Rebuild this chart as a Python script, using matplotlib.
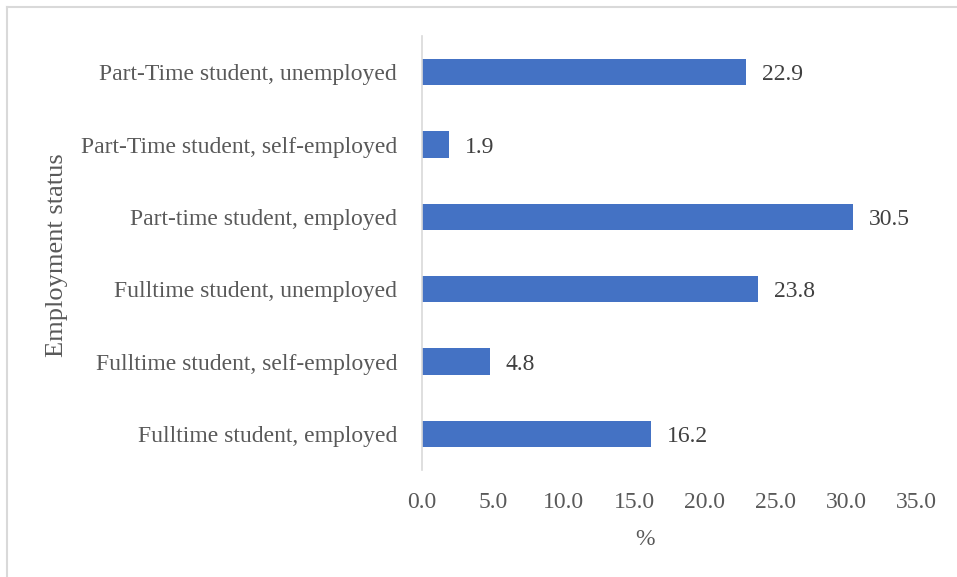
import matplotlib.pyplot as plt
from matplotlib.lines import Line2D

categories = ['Fulltime student, employed', 'Fulltime student, self-employed',
              'Fulltime student, unemployed', 'Part-time student, employed',
              'Part-Time student, self-employed', 'Part-Time student, unemployed']
percent = [16.2, 4.8, 23.8, 30.5, 1.9, 22.9]
xticks = [0, 5, 10, 15, 20, 25, 30, 35]

plt.rcParams['font.family'] = ['Liberation Serif', 'DejaVu Serif']

fig = plt.figure(figsize=(9.57, 5.77), dpi=100)
ax = fig.add_axes([0.441, 0.1854, 0.517, 0.7522])

pos = range(len(categories))
ax.barh(pos, percent, height=0.36, color='#4472C4')
for y, v in zip(pos, percent):
    ax.text(v + 1.13, y, f'{v:.1f}', va='center_baseline', ha='left', fontsize=17, color='#404040')

ax.set_xlim(0, 35)
ax.set_ylim(-0.5, len(categories) - 0.5)
ax.set_yticks(list(pos))
ax.set_yticklabels(categories)
ax.set_xticks(xticks)
ax.set_xticklabels([f'{t:.1f}' for t in xticks])
ax.tick_params(axis='both', length=0, labelsize=17, labelcolor='#595959')
ax.tick_params(axis='y', pad=18)
ax.tick_params(axis='x', pad=16)

for s in ['top', 'right', 'bottom']:
    ax.spines[s].set_visible(False)
ax.spines['left'].set_color('#D9D9D9')
ax.spines['left'].set_linewidth(1.2)

ax.set_xlabel('%', fontsize=17, color='#595959')
ax.xaxis.set_label_coords(0.45, -0.137)
fig.text(0.0596, 0.5585, 'Employment status', rotation=90, ha='center', va='center',
         fontsize=19, color='#595959')

# chart area border (left and top edges)
fig.add_artist(Line2D([0.0075, 0.0075], [0, 0.988], color='#D9D9D9', lw=1.5))
fig.add_artist(Line2D([0.0075, 1], [0.988, 0.988], color='#D9D9D9', lw=1.5))

fig.savefig('out.png', dpi=100)
